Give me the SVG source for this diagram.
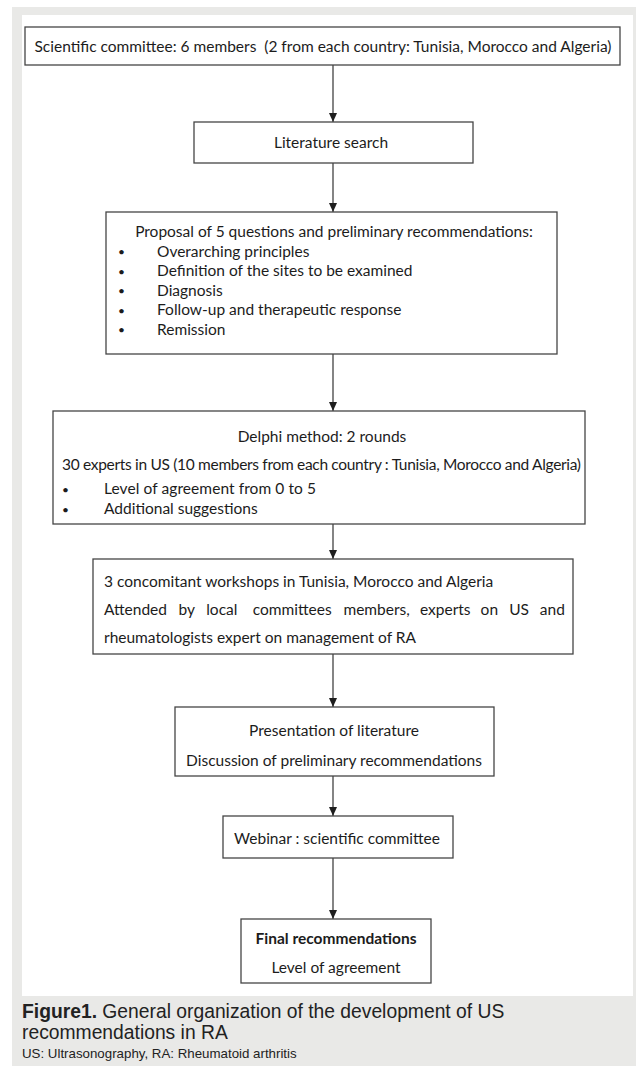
<svg xmlns="http://www.w3.org/2000/svg" width="636" height="1066" viewBox="0 0 636 1066">
<defs>
<marker id="ah" viewBox="0 0 9 8" refX="9" refY="4" markerWidth="9" markerHeight="8" markerUnits="userSpaceOnUse" orient="auto">
<path d="M0,0 L9,4 L0,8 Z" fill="#1e1e1e"/>
</marker>
<style>
.box{fill:#fff;stroke:#454545;stroke-width:1.3}
.t{font-family:Lato,"Open Sans","Liberation Sans",sans-serif;font-size:15.5px;fill:#1c1c1c;white-space:pre}
.bl{font-family:Lato,"Open Sans","Liberation Sans",sans-serif;font-size:12px;fill:#1c1c1c}
.c{text-anchor:middle}
.b{font-weight:bold}
.edge{stroke:#333;stroke-width:1.2;fill:none;marker-end:url(#ah)}
.cap{font-family:"Liberation Sans",Arial,sans-serif;fill:#222}
</style>
</defs>
<rect x="0" y="0" width="636" height="1066" fill="#fff"/>
<rect x="12" y="7" width="624" height="1059" fill="#e9e9e7"/>
<rect x="22" y="15" width="611" height="981" fill="#fff"/>

<g id="connectors">
<line class="edge" x1="333" y1="65" x2="333" y2="122"/>
<line class="edge" x1="333" y1="163" x2="333" y2="212"/>
<line class="edge" x1="333" y1="354" x2="333" y2="411"/>
<line class="edge" x1="333" y1="524" x2="333" y2="559"/>
<line class="edge" x1="333" y1="654" x2="333" y2="707"/>
<line class="edge" x1="333" y1="776" x2="333" y2="816"/>
<line class="edge" x1="333" y1="858" x2="333" y2="919"/>
</g>

<g id="n1">
<rect class="box" x="25" y="27" width="595" height="38"/>
<text class="t c" x="323" y="52">Scientific committee: 6 members  (2 from each country: Tunisia, Morocco and Algeria)</text>
</g>

<g id="n2">
<rect class="box" x="194" y="122" width="279" height="41"/>
<text class="t c" x="331" y="148">Literature search</text>
</g>

<g id="n3">
<rect class="box" x="106" y="212" width="451" height="142"/>
<text class="t c" x="334" y="237">Proposal of 5 questions and preliminary recommendations:</text>
<text class="bl" x="118" y="256">•</text><text class="t" x="157" y="256.5">Overarching principles</text>
<text class="bl" x="118" y="275.5">•</text><text class="t" x="157" y="276">Definition of the sites to be examined</text>
<text class="bl" x="118" y="295">•</text><text class="t" x="157" y="295.5">Diagnosis</text>
<text class="bl" x="118" y="314.5">•</text><text class="t" x="157" y="315">Follow-up and therapeutic response</text>
<text class="bl" x="118" y="334">•</text><text class="t" x="157" y="334.5">Remission</text>
</g>

<g id="n4">
<rect class="box" x="53" y="411" width="532" height="113"/>
<text class="t c" x="322" y="442">Delphi method: 2 rounds</text>
<text class="t" x="62" y="470" textLength="519" lengthAdjust="spacing">30 experts in US (10 members from each country : Tunisia, Morocco and Algeria)</text>
<text class="bl" x="62" y="493.5">•</text><text class="t" x="104" y="494" textLength="212" lengthAdjust="spacing">Level of agreement from 0 to 5</text>
<text class="bl" x="62" y="513.5">•</text><text class="t" x="104" y="514">Additional suggestions</text>
</g>

<g id="n5">
<rect class="box" x="93" y="559" width="480" height="95"/>
<text class="t" x="104" y="587">3 concomitant workshops in Tunisia, Morocco and Algeria</text>
<text class="t" y="615"><tspan x="104">Attended</tspan><tspan x="178.6">by</tspan><tspan x="206.2">local</tspan><tspan x="252.8">committees</tspan><tspan x="343.4">members,</tspan><tspan x="420">experts</tspan><tspan x="480.6">on</tspan><tspan x="509.2">US</tspan><tspan x="539.8">and</tspan></text>
<text class="t" x="104" y="643">rheumatologists expert on management of RA</text>
</g>

<g id="n6">
<rect class="box" x="175" y="707" width="319" height="69"/>
<text class="t c" x="334" y="736">Presentation of literature</text>
<text class="t c" x="334" y="766">Discussion of preliminary recommendations</text>
</g>

<g id="n7">
<rect class="box" x="223" y="816" width="230" height="42"/>
<text class="t c" x="337" y="844">Webinar : scientific committee</text>
</g>

<g id="n8">
<rect class="box" x="241" y="919" width="190" height="64"/>
<text class="t c b" x="336" y="944">Final recommendations</text>
<text class="t c" x="336" y="973">Level of agreement</text>
</g>

<g id="caption">
<text class="cap" x="22" y="1018" font-size="19.3"><tspan font-weight="bold">Figure1.</tspan> General organization of the development of US</text>
<text class="cap" x="22" y="1039" font-size="19.3">recommendations in RA</text>
<text class="cap" x="22" y="1058" font-size="13.3">US: Ultrasonography, RA: Rheumatoid arthritis</text>
</g>
</svg>
